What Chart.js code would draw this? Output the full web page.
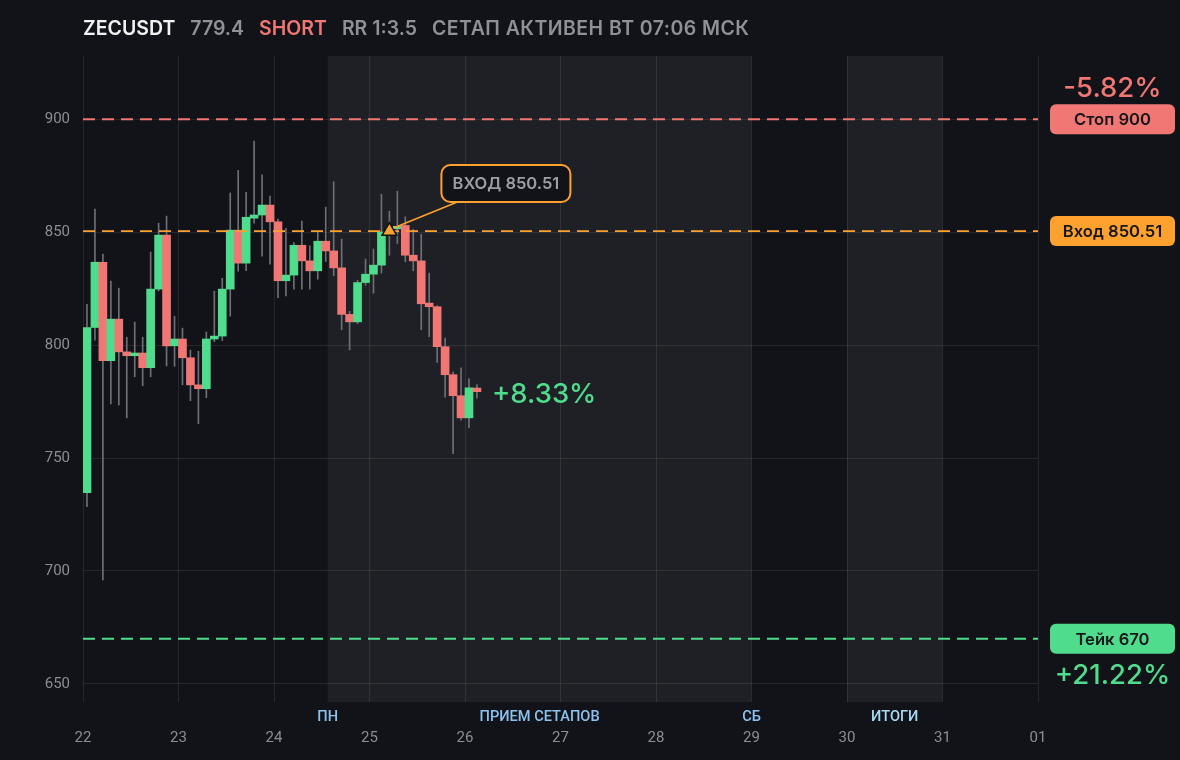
<!DOCTYPE html>
<html><head><meta charset="utf-8">
<script src="https://cdn.jsdelivr.net/npm/chart.js@4.4.1/dist/chart.umd.min.js"></script>
<style>
html,body{margin:0;padding:0;background:#121318;width:1180px;height:760px;overflow:hidden}
#wrap{position:relative;width:1180px;height:760px}
#hdr{position:absolute;left:83px;top:15px;font:600 19.5px Inter, "Noto Sans", sans-serif;white-space:nowrap;line-height:26px}
#hdr span{margin-right:15px}
#hdr span:last-child{letter-spacing:0.45px}
canvas{position:absolute;left:0;top:0}
</style></head><body>
<div id="wrap"><canvas id="c" width="1180" height="760"></canvas><div id="hdr"></div></div>
<script>
// ---- header ----
const symbol = 'ZECUSDT';
const lastPriceText = '779.4';
const sideText = 'SHORT';
const rrText = 'RR 1:3.5';
const statusText = 'СЕТАП АКТИВЕН ВТ 07:06 МСК';

// ---- candles (2h) ----
const times = ['22 00:00','22 02:00','22 04:00','22 06:00','22 08:00','22 10:00','22 12:00','22 14:00','22 16:00','22 18:00','22 20:00','22 22:00',
 '23 00:00','23 02:00','23 04:00','23 06:00','23 08:00','23 10:00','23 12:00','23 14:00','23 16:00','23 18:00','23 20:00','23 22:00',
 '24 00:00','24 02:00','24 04:00','24 06:00','24 08:00','24 10:00','24 12:00','24 14:00','24 16:00','24 18:00','24 20:00','24 22:00',
 '25 00:00','25 02:00','25 04:00','25 06:00','25 08:00','25 10:00','25 12:00','25 14:00','25 16:00','25 18:00','25 20:00','25 22:00',
 '26 00:00','26 02:00'];
const opens  = [734.7,807.8,836.7,793.1,811.5,797.0,795.3,796.5,790.0,824.8,848.7,799.7,
 802.7,794.4,782.4,780.7,802.7,804.0,824.8,850.9,836.3,856.2,857.6,862.0,
 854.6,828.5,831.0,844.2,837.3,832.9,846.0,841.7,834.2,813.6,810.3,827.7,
 831.4,835.4,850.1,851.5,853.0,839.8,837.3,818.6,817.0,799.3,786.9,777.6,
 767.8,781.0];
const highs  = [818.1,860.2,840.3,828.3,825.2,803.5,810.2,803.5,841.2,854.0,857.1,812.8,
 807.5,797.8,797.3,805.8,823.9,829.6,867.4,877.4,867.6,890.3,875.4,866.0,
 855.8,851.6,845.4,854.9,844.0,850.1,861.1,872.3,846.9,815.0,828.7,838.1,
 842.5,866.8,859.3,868.1,856.8,851.3,849.1,831.9,817.5,803.1,788.2,790.0,
 785.1,782.5];
const lows   = [728.5,802.2,696.0,774.0,773.5,767.8,786.0,782.0,786.0,824.0,790.8,790.6,
 782.4,775.4,765.2,776.7,801.5,802.0,812.8,832.7,833.0,854.0,839.4,835.8,
 821.0,821.8,824.8,824.8,824.8,829.2,837.0,830.7,806.8,797.9,809.5,826.5,
 823.0,831.9,839.8,845.0,836.9,832.9,806.8,803.7,792.3,777.0,751.9,766.8,
 763.4,776.5];
const closes = [807.8,836.7,793.1,811.5,797.0,795.3,796.5,790.0,824.8,848.7,799.7,802.7,
 794.4,782.4,780.7,802.7,804.0,824.8,850.9,836.3,856.6,857.6,862.0,854.6,
 828.5,831.0,844.2,837.3,832.9,846.0,841.7,834.2,813.6,810.3,827.7,831.4,
 835.4,850.1,851.5,852.6,839.8,837.3,818.3,817.0,799.3,786.9,777.6,767.8,
 781.1,779.4];

// ---- axes ----
const dayTickTimes = ['22 00:00','23 00:00','24 00:00','25 00:00','26 00:00','27 00:00','28 00:00','29 00:00','30 00:00','31 00:00','01 00:00'];
const dayLabels = ['22','23','24','25','26','27','28','29','30','31','01'];
const yTickValues = [650,700,750,800,850,900];
const yMin = 642, yMax = 928;

// ---- levels / annotations ----
const stopPrice = 900, entryPrice = 850.51, takePrice = 670;
const stopLabel = 'Стоп 900', entryLabel = 'Вход 850.51', takeLabel = 'Тейк 670';
const stopPct = '-5.82%', takePct = '+21.22%', currentPct = '+8.33%';
const entryTime = '25 04:00';
const calloutText = 'ВХОД 850.51';
const bandFrom = ['24 13:30','30 00:00'];
const bandTo   = ['29 00:00','31 00:00'];
const bandLabelTexts = ['ПН','ПРИЕМ СЕТАПОВ','СБ','ИТОГИ'];

const GREEN = '#4fdc8c', RED = '#f07773', ORANGE = '#ffa12f', BG = '#121318';

function toHours(s){ const [d,hm]=s.split(' '); let day=+d; if(day<22) day+=31; const [h,m]=hm.split(':').map(Number); return (day-22)*24+h+m/60; }

// header
(function(){
  const hdr=document.getElementById('hdr');
  [[symbol,'#f2f2f4'],[lastPriceText,'#8e9198'],[sideText,RED],[rrText,'#8e9198'],[statusText,'#8e9198']].forEach(([t,c])=>{
    const s=document.createElement('span'); s.textContent=t; s.style.color=c; hdr.appendChild(s);
  });
})();

const xs = times.map(t=>toHours(t)+1);
const bodyData = xs.map((x,i)=>({x, y:[opens[i], closes[i]]}));
const wickData = xs.map((x,i)=>({x, y:[lows[i], highs[i]]}));
const bodyColors = closes.map((c,i)=> c>=opens[i] ? GREEN : RED);

function roundRect(ctx,x,y,w,h,r){ctx.beginPath();ctx.moveTo(x+r,y);ctx.arcTo(x+w,y,x+w,y+h,r);ctx.arcTo(x+w,y+h,x,y+h,r);ctx.arcTo(x,y+h,x,y,r);ctx.arcTo(x,y,x+w,y,r);ctx.closePath();}

const overlay = {
  id:'overlay',
  beforeDraw(chart){
    const {ctx, chartArea:a, scales:{x}} = chart;
    ctx.save();
    ctx.fillStyle = BG; ctx.fillRect(0,0,chart.width,chart.height);
    ctx.fillStyle = '#1f2025';
    bandFrom.forEach((f,i)=>{
      const x0=x.getPixelForValue(toHours(f)), x1=x.getPixelForValue(toHours(bandTo[i]));
      ctx.fillRect(x0,a.top,x1-x0,a.bottom-a.top);
    });
    ctx.restore();
  },
  afterDatasetDraw(chart,args){
    if(args.index!==0) return;
    const {ctx, chartArea:a, scales:{y}} = chart;
    ctx.save();
    ctx.lineWidth = 1.8; ctx.setLineDash([12,7]);
    [[stopPrice,RED],[entryPrice,ORANGE],[takePrice,GREEN]].forEach(([v,c])=>{
      const py=y.getPixelForValue(v);
      ctx.strokeStyle=c; ctx.beginPath(); ctx.moveTo(a.left,py); ctx.lineTo(a.right,py); ctx.stroke();
    });
    ctx.restore();
  },
  afterDraw(chart){
    const {ctx, chartArea:a, scales:{x,y}} = chart;
    ctx.save();
    // band labels
    const f0=x.getPixelForValue(toHours(bandFrom[0])), t0=x.getPixelForValue(toHours(bandTo[0]));
    const f1=x.getPixelForValue(toHours(bandFrom[1])), t1=x.getPixelForValue(toHours(bandTo[1]));
    const lblX=[f0,(f0+t0)/2,t0,(f1+t1)/2];
    const lblC=['#8cc2f0','#8cc2f0','#8cc2f0','#a6dbf5'];
    ctx.font='500 14.6px Roboto'; ctx.textAlign='center'; ctx.textBaseline='middle';
    bandLabelTexts.forEach((t,i)=>{ctx.fillStyle=lblC[i]; ctx.fillText(t,lblX[i],a.bottom+15);});
    // right labels
    const bx=a.right+12, bw=125, bh=30;
    [[stopPrice,stopLabel,RED],[entryPrice,entryLabel,ORANGE],[takePrice,takeLabel,GREEN]].forEach(([v,t,c])=>{
      const py=y.getPixelForValue(v);
      ctx.fillStyle=c; roundRect(ctx,bx,py-bh/2,bw,bh,6); ctx.fill();
      ctx.fillStyle='#16171b'; ctx.font='600 16.6px Inter'; ctx.fillText(t,bx+bw/2,py+1);
    });
    ctx.font='500 27.5px Inter';
    ctx.fillStyle=RED; ctx.fillText(stopPct,bx+bw/2,y.getPixelForValue(stopPrice)-31);
    ctx.fillStyle=GREEN; ctx.fillText(takePct,bx+bw/2,y.getPixelForValue(takePrice)+37);
    // current pct
    const lx=x.getPixelForValue(xs[xs.length-1]), ly=y.getPixelForValue(closes[closes.length-1]);
    ctx.textAlign='left'; ctx.fillStyle=GREEN; ctx.fillText(currentPct,lx+15,ly+3);
    // callout
    const px=x.getPixelForValue(toHours(entryTime)+1), py=y.getPixelForValue(entryPrice);
    ctx.strokeStyle=ORANGE; ctx.lineWidth=1.5;
    ctx.beginPath(); ctx.moveTo(px+4,py-3); ctx.lineTo(px+68,py-29); ctx.stroke();
    const cx=px+52, cy=py-66, cw=129, ch=37;
    ctx.fillStyle=BG; ctx.lineWidth=2; roundRect(ctx,cx,cy,cw,ch,9); ctx.fill(); ctx.stroke();
    ctx.fillStyle='#9c9ea5'; ctx.font='600 16.5px Inter'; ctx.textAlign='center';
    ctx.fillText(calloutText,cx+cw/2,cy+ch/2+1);
    ctx.restore();
  }
};

new Chart(document.getElementById('c'), {
  type:'bar',
  data:{ datasets:[
    {label:'body', data:bodyData, backgroundColor:bodyColors, barThickness:8, grouped:false, borderWidth:0, minBarLength:1.5, order:1},
    {label:'wick', data:wickData, backgroundColor:'#6d7076', barThickness:1, grouped:false, borderWidth:0, order:2},
    {label:'entry', type:'scatter', data:[{x:toHours(entryTime)+1, y:entryPrice}], pointStyle:'triangle', radius:8.5,
     backgroundColor:ORANGE, borderColor:BG, borderWidth:1.5, order:0}
  ]},
  options:{
    responsive:false, animation:false,
    layout:{padding:{left:0, top:56, right:142, bottom:0}},
    plugins:{legend:{display:false}, tooltip:{enabled:false}},
    scales:{
      x:{type:'linear', min:0, max:240, offset:false,
        afterBuildTicks(s){ s.ticks = dayTickTimes.map(t=>({value:toHours(t)})); },
        afterFit(s){ s.height = 58; },
        ticks:{color:'#8b8e94', font:{family:'Roboto', size:15}, padding:27, maxRotation:0, autoSkip:false,
          callback:(v,i)=>dayLabels[i]},
        grid:{color:'rgba(255,255,255,0.085)', drawTicks:false, offset:false}, border:{display:false}},
      y:{type:'linear', min:yMin, max:yMax,
        afterBuildTicks(s){ s.ticks = yTickValues.map(v=>({value:v})); },
        afterFit(s){ s.width = 83; },
        ticks:{color:'#8b8e94', font:{family:'Roboto', size:15}, padding:13},
        grid:{color:'rgba(255,255,255,0.085)', drawTicks:false}, border:{display:false}}
    }
  },
  plugins:[overlay]
});
</script>
</body></html>
